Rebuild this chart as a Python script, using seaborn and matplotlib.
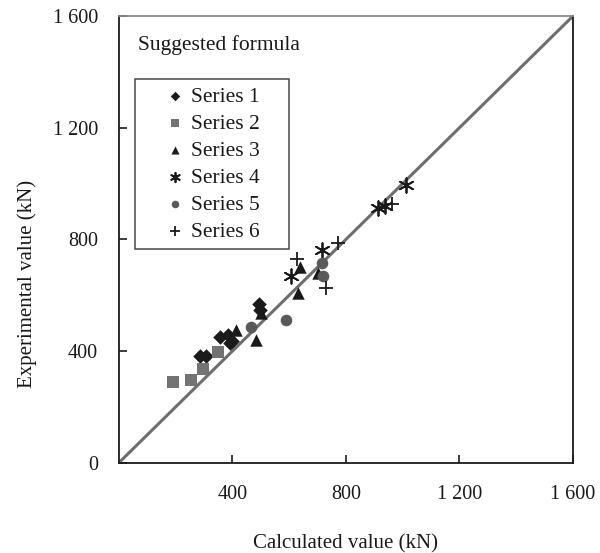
import matplotlib
matplotlib.use("Agg")
import matplotlib.pyplot as plt
import seaborn as sns
import pandas as pd

# Calculated vs experimental capacity (kN) for six test series
s1_calc = [287, 307, 358, 384, 390, 400, 495, 498]
s1_exp = [384, 384, 452, 458, 428, 435, 569, 548]
s2_calc = [190, 255, 298, 348]
s2_exp = [291, 295, 335, 396]
s3_calc = [414, 483, 502, 633, 638, 703]
s3_exp = [476, 440, 537, 610, 702, 681]
s4_calc = [606, 715, 912, 937, 1011]
s4_exp = [670, 762, 913, 920, 995]
s5_calc = [466, 588, 717, 720]
s5_exp = [488, 510, 715, 669]
s6_calc = [626, 773, 729, 961]
s6_exp = [729, 789, 625, 927]

series_names = ["Series 1", "Series 2", "Series 3", "Series 4", "Series 5", "Series 6"]
tick_values = [400, 800, 1200, 1600]
x_tick_labels = ["400", "800", "1 200", "1 600"]
y_tick_values = [0, 400, 800, 1200, 1600]
y_tick_labels = ["0", "400", "800", "1 200", "1 600"]

calc = [s1_calc, s2_calc, s3_calc, s4_calc, s5_calc, s6_calc]
expv = [s1_exp, s2_exp, s3_exp, s4_exp, s5_exp, s6_exp]

sns.set_theme(style="white")
plt.rcParams["font.family"] = ["Liberation Serif", "DejaVu Serif"]

styles = [
    dict(marker="D", color="#1a1a1a", s=55, linewidths=0),
    dict(marker="s", color="#737373", s=70, linewidths=0),
    dict(marker="^", color="#1a1a1a", s=80, linewidths=0),
    dict(marker=(6, 2, 0), color="#1a1a1a", s=110, linewidths=1.3),
    dict(marker="o", color="#5a5a5a", s=70, linewidths=0),
    dict(marker="+", color="#1a1a1a", s=110, linewidths=1.3),
]

fig = plt.figure(figsize=(6.0, 5.53), dpi=100)
ax = fig.add_axes([0.198, 0.163, 0.757, 0.808])

# y = x reference
ax.plot([0, 1600], [0, 1600], color="#6e6e6e", lw=2.2, zorder=1)

for name, xs, ys, st in zip(series_names, calc, expv, styles):
    df = pd.DataFrame({"calc": xs, "exp": ys})
    sns.scatterplot(data=df, x="calc", y="exp", ax=ax, label=name,
                    marker=st["marker"], color=st["color"], s=st["s"],
                    linewidth=st["linewidths"], edgecolor=st["color"], zorder=3)

ax.set_xlim(0, 1600)
ax.set_ylim(0, 1600)
ax.set_xticks(tick_values)
ax.set_xticklabels(x_tick_labels)
ax.set_yticks(y_tick_values)
ax.set_yticklabels(y_tick_labels)
ax.tick_params(axis="both", direction="in", length=6, width=1.2, labelsize=14.5,
               colors="#1a1a1a", bottom=True, left=True)
ax.tick_params(axis="x", pad=16)
ax.tick_params(axis="y", pad=15)

for side in ["left", "bottom", "right"]:
    ax.spines[side].set_color("#1a1a1a")
    ax.spines[side].set_linewidth(1.3)
ax.spines["top"].set_color("#8a8a8a")
ax.spines["top"].set_linewidth(1.3)

ax.set_xlabel("Calculated value (kN)", fontsize=15, color="#1a1a1a", labelpad=22)
ax.set_ylabel("Experimental value (kN)", fontsize=15, color="#1a1a1a")
ax.yaxis.set_label_coords(-0.18, 0.40)

ax.text(0.042, 0.935, "Suggested formula", transform=ax.transAxes, fontsize=15.5,
        color="#1a1a1a", ha="left", va="center")

leg = ax.legend(loc="upper left", bbox_to_anchor=(0.0352, 0.758, 0.339, 0.1),
                mode="expand", fontsize=15.5,
                frameon=True, fancybox=False, markerscale=0.65,
                handlelength=3.0, handletextpad=-0.76, labelspacing=0.32,
                borderpad=0.35, borderaxespad=0)
leg.get_frame().set_edgecolor("#1a1a1a")
leg.get_frame().set_linewidth(1.1)
for t in leg.get_texts():
    t.set_color("#1a1a1a")

fig.savefig("out.png", dpi=100, facecolor="white")
